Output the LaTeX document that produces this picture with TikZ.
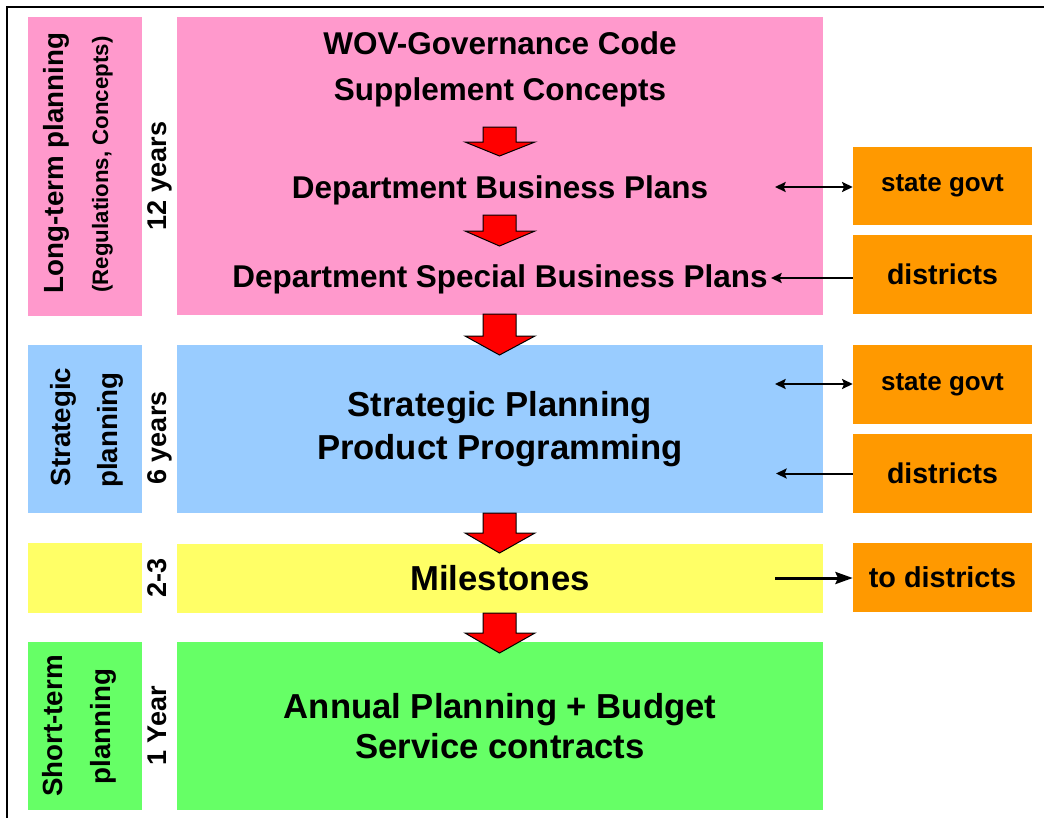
\documentclass[tikz,border=0pt]{standalone}
\usepackage{fontspec}
\setmainfont{Liberation Sans}
\usepackage{xcolor}
\usepackage{tikz}
\usetikzlibrary{arrows.meta}

\definecolor{longpink}{HTML}{FF99CC}
\definecolor{stratblue}{HTML}{99CCFF}
\definecolor{mileyellow}{HTML}{FFFF66}
\definecolor{shortgreen}{HTML}{66FF66}
\definecolor{partnerorange}{HTML}{FF9900}

\begin{document}
\begin{tikzpicture}[x=0.75pt, y=-0.75pt,
    band/.style={fill=#1, inner sep=0pt, minimum width=484.5pt},
    tag/.style={fill=#1, inner sep=0pt, minimum width=85.5pt},
    partner/.style={fill=partnerorange, inner sep=0pt, minimum width=134.25pt},
    pinktext/.style={anchor=base, font=\bfseries\fontsize{23.6}{28}\selectfont},
    bigtext/.style={font=\bfseries\fontsize{26}{#1}\selectfont, align=center},
    sidetext/.style={rotate=90, anchor=base, font=\bfseries\fontsize{20.8}{24}\selectfont},
    years/.style={rotate=90, anchor=base, font=\bfseries\fontsize{20.3}{24}\selectfont},
    flow/.style={fill=red, draw=black, line width=0.75pt, line join=miter},
    link/.style={line width=1.5pt, >={Stealth[length=8pt, width=7.5pt, inset=1.5pt]}}]
    \useasboundingbox (0,0) rectangle (1044,817);
    % Outer frame
    \draw[line width=1.5pt] (7,7) rectangle (1060,830);

    % Planning bands
    \node[band=longpink, minimum height=223.5pt] (longbox) at (500,166) {};
    \node[tag=longpink, minimum height=223.5pt] (longtag) at (85,166.5) {};
    \node[band=stratblue, minimum height=126pt, bigtext=32pt] (stratbox) at (500,429)
        {Strategic Planning\\Product Programming};
    \node[tag=stratblue, minimum height=126pt] (strattag) at (85,429) {};
    \node[band=mileyellow, minimum height=51.75pt, bigtext=30pt] (milebox) at (500,578.5) {Milestones};
    \node[tag=mileyellow, minimum height=52.5pt] (miletag) at (85,578) {};
    \node[band=shortgreen, minimum height=126pt, bigtext=29.5pt] (shortbox) at (500,726)
        {Annual Planning + Budget\\Service contracts};
    \node[tag=shortgreen, minimum height=126pt] (shorttag) at (85,726) {};

    % Red flow arrows
    \foreach \ytop/\yneck/\ytip in {127/142/156, 215/231/246, 314/336/355, 513/533/553, 613/633/653} {
        \draw[flow] (483,\ytop) -- (516,\ytop) -- (516,\yneck) -- (535,\yneck)
            -- (499.5,\ytip) -- (465,\yneck) -- (483,\yneck) -- cycle;
    }

    % Long-term texts
    \node[pinktext] (wov) at (500,55) {WOV-Governance Code};
    \node[pinktext] (supp) at (500,100) {Supplement Concepts};
    \node[pinktext] (dbp) at (500,198) {Department Business Plans};
    \node[pinktext] (dsbp) at (500,287) {Department Special Business Plans};

    % Side labels
    \node[sidetext] (longlbl) at (63,163) {Long-term planning};
    \node[sidetext, font=\bfseries\fontsize{16.7}{20}\selectfont] (reglbl) at (108,164.5) {(Regulations, Concepts)};
    \node[sidetext] (stratlbl) at (70,427) {Strategic};
    \node[sidetext] (stratlbl2) at (117.5,430) {planning};
    \node[sidetext] (shortlbl) at (62,726) {Short-term};
    \node[sidetext] (shortlbl2) at (110,726.5) {planning};

    % Horizons
    \node[years] (y12) at (166,176) {12 years};
    \node[years] (y6) at (166,438) {6 years};
    \node[years] (y23) at (166,578) {2-3};
    \node[years] (y1) at (166,726) {1 Year};

    % Partners
    \node[partner, minimum height=58.5pt, font=\bfseries\fontsize{19.5}{24}\selectfont] (govt1) at (942.5,186) {state govt};
    \node[partner, minimum height=59.25pt, font=\bfseries\fontsize{21.4}{24}\selectfont] (dist1) at (942.5,274.5) {districts};
    \node[partner, minimum height=59.25pt, font=\bfseries\fontsize{19.5}{24}\selectfont] (govt2) at (942.5,384.5) {state govt};
    \node[partner, minimum height=59.25pt, font=\bfseries\fontsize{21.4}{24}\selectfont] (dist2) at (942.5,473.5) {districts};
    \node[partner, minimum height=51.75pt, font=\bfseries\fontsize{21.6}{24}\selectfont] (todist) at (942.5,577.5) {to districts};

    % Links to partners
    \coordinate (govt1end) at (775,187);
    \coordinate (dist1end) at (771,278);
    \coordinate (govt2end) at (775,384);
    \coordinate (dist2end) at (776,473.5);
    \coordinate (todistend) at (775,578);
    \draw[link, <->] (govt1end) -- (govt1end -| govt1.west);
    \draw[link, ->] (dist1end -| dist1.west) -- (dist1end);
    \draw[link, <->] (govt2end) -- (govt2end -| govt2.west);
    \draw[link, ->] (dist2end -| dist2.west) -- (dist2end);
    \draw[link, line width=2.25pt, -{Stealth[length=13pt, width=9pt, inset=2pt]}] (todistend) -- (todistend -| todist.west);
\end{tikzpicture}
\end{document}
